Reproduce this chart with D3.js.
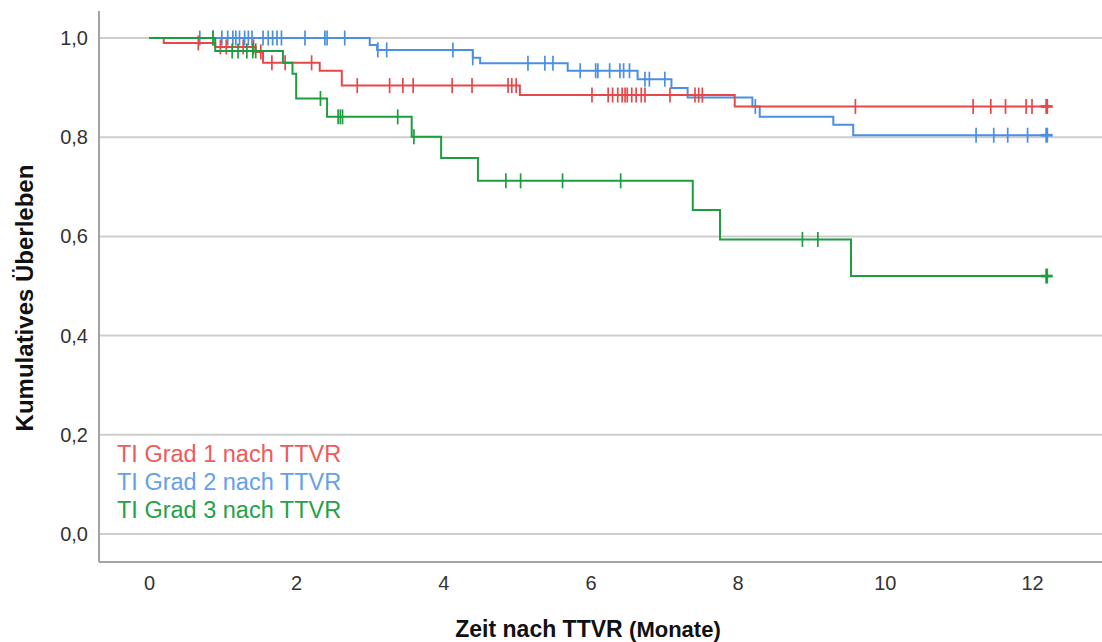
<!DOCTYPE html>
<html>
<head>
<meta charset="utf-8">
<script src="https://cdn.jsdelivr.net/npm/d3@7"></script>
<style>
  body { margin: 0; background: #fff; }
  svg { display: block; font-family: Arial, "Liberation Sans", sans-serif; }
</style>
</head>
<body>
<div id="chart"></div>
<script>
// Kaplan-Meier steps (Monate, kumulatives Ueberleben) per group
var grad1Times = [0.2, 0.9, 1.45, 1.55, 2.32, 2.62, 5.04, 7.96];
var grad1Surv  = [0.99, 0.982, 0.972, 0.95, 0.934, 0.904, 0.885, 0.862];
var grad1Cens  = [0.67, 0.97, 1.05, 1.28, 1.42, 1.52, 1.67, 1.85, 2.21, 2.83, 3.27, 3.45, 3.59,
                  4.12, 4.39, 4.88, 4.93, 4.99, 6.02, 6.24, 6.3, 6.37, 6.43, 6.47, 6.5, 6.56,
                  6.62, 6.69, 6.74, 7.08, 7.42, 7.47, 7.52, 9.6, 11.2, 11.44, 11.64, 11.92,
                  12.0, 12.2, 12.2];

var grad2Times = [3.0, 3.1, 4.4, 4.5, 5.69, 6.64, 7.1, 7.32, 8.2, 8.3, 9.3, 9.57];
var grad2Surv  = [0.986, 0.976, 0.96, 0.949, 0.934, 0.917, 0.899, 0.88, 0.862, 0.841, 0.825, 0.804];
var grad2Cens  = [0.69, 0.87, 0.99, 1.07, 1.14, 1.18, 1.23, 1.3, 1.35, 1.4, 1.55, 1.62, 1.68,
                  1.74, 1.8, 2.12, 2.39, 2.42, 2.66, 3.11, 3.23, 4.13, 4.4, 5.15, 5.38, 5.49,
                  5.86, 6.07, 6.1, 6.26, 6.4, 6.45, 6.53, 6.74, 6.8, 7.01, 8.24, 11.24, 11.48,
                  11.67, 11.94, 12.2, 12.2];

var grad3Times = [0.9, 1.82, 1.95, 2.0, 2.42, 3.57, 3.97, 4.47, 7.39, 7.76, 9.54];
var grad3Surv  = [0.974, 0.95, 0.928, 0.878, 0.841, 0.801, 0.758, 0.712, 0.653, 0.594, 0.52];
var grad3Cens  = [0.87, 1.13, 1.21, 1.33, 1.41, 1.45, 2.33, 2.57, 2.6, 2.63, 3.38, 3.6, 4.85,
                  5.05, 5.62, 6.41, 8.88, 9.09, 12.2, 12.2];

var lastTime = 12.2;
var groupNames = ["TI Grad 1 nach TTVR", "TI Grad 2 nach TTVR", "TI Grad 3 nach TTVR"];
var groupColors = ["#e8474a", "#4a8fe2", "#1d9e3e"];
var legendColors = ["#ee5a5c", "#65a0ea", "#25a247"];
var xTicks = [0, 2, 4, 6, 8, 10, 12];
var yTicks = [0, 0.2, 0.4, 0.6, 0.8, 1.0];

var groups = [
  {name: groupNames[0], color: groupColors[0], times: grad1Times, surv: grad1Surv, cens: grad1Cens},
  {name: groupNames[1], color: groupColors[1], times: grad2Times, surv: grad2Surv, cens: grad2Cens},
  {name: groupNames[2], color: groupColors[2], times: grad3Times, surv: grad3Surv, cens: grad3Cens}
];

var width = 1102, height = 642;
var frame = {left: 99, right: 1102, top: 11, bottom: 562};

var x = d3.scaleLinear().domain([0, 12]).range([149, 1032]);
var y = d3.scaleLinear().domain([0, 1]).range([534, 38]);

var svg = d3.select("#chart").append("svg")
  .attr("width", width)
  .attr("height", height);

// gridlines
svg.append("g")
  .selectAll("line")
  .data(yTicks)
  .enter().append("line")
    .attr("x1", frame.left)
    .attr("x2", frame.right)
    .attr("y1", function(d) { return y(d); })
    .attr("y2", function(d) { return y(d); })
    .attr("stroke", "#cdcdcd")
    .attr("stroke-width", 2);

// axes (no tick marks, only labels)
var yAxis = d3.axisLeft(y)
  .tickValues(yTicks)
  .tickSize(0)
  .tickPadding(11)
  .tickFormat(function(d) { return d3.format(".1f")(d).replace(".", ","); });

svg.append("g")
  .attr("transform", "translate(" + frame.left + ",0)")
  .call(yAxis)
  .call(function(g) { g.select(".domain").remove(); })
  .selectAll("text")
    .attr("font-size", 20)
    .attr("font-family", "Arial, 'Liberation Sans', sans-serif")
    .attr("fill", "#333");

var xAxis = d3.axisBottom(x)
  .tickValues(xTicks)
  .tickSize(0)
  .tickPadding(14);

svg.append("g")
  .attr("transform", "translate(0," + frame.bottom + ")")
  .call(xAxis)
  .call(function(g) { g.select(".domain").remove(); })
  .selectAll("text")
    .attr("font-size", 20)
    .attr("font-family", "Arial, 'Liberation Sans', sans-serif")
    .attr("fill", "#333");

// frame lines
svg.append("line")
  .attr("x1", frame.left).attr("x2", frame.left)
  .attr("y1", frame.top).attr("y2", frame.bottom)
  .attr("stroke", "#a3a3a3").attr("stroke-width", 2);
svg.append("line")
  .attr("x1", frame.left).attr("x2", frame.right)
  .attr("y1", frame.bottom).attr("y2", frame.bottom)
  .attr("stroke", "#a3a3a3").attr("stroke-width", 2);

function survAt(g, t) {
  var s = 1;
  for (var i = 0; i < g.times.length; i++) {
    if (g.times[i] <= t) s = g.surv[i];
  }
  return s;
}

var line = d3.line()
  .x(function(d) { return x(d[0]); })
  .y(function(d) { return y(d[1]); })
  .curve(d3.curveStepAfter);

// draw lower curves first so green/red sit on top like the original
[1, 0, 2].forEach(function(i) {
  var g = groups[i];
  var pts = [[0, 1]];
  g.times.forEach(function(t, k) { pts.push([t, g.surv[k]]); });
  pts.push([lastTime, g.surv[g.surv.length - 1]]);

  svg.append("path")
    .datum(pts)
    .attr("d", line)
    .attr("fill", "none")
    .attr("stroke", g.color)
    .attr("stroke-width", 2);

  var counts = d3.rollups(g.cens, function(v) { return v.length; }, function(d) { return d; });
  var marks = svg.append("g");
  marks.selectAll("line")
    .data(counts)
    .enter().append("line")
      .attr("x1", function(d) { return x(d[0]); })
      .attr("x2", function(d) { return x(d[0]); })
      .attr("y1", function(d) { return y(survAt(g, d[0])) - 7.5; })
      .attr("y2", function(d) { return y(survAt(g, d[0])) + 7.5; })
      .attr("stroke", g.color)
      .attr("stroke-width", function(d) { return 1.7 + (d[1] - 1) * 1.2; });
  // heavier plus at repeated censorings
  marks.selectAll("line.h")
    .data(counts.filter(function(d) { return d[1] > 1; }))
    .enter().append("line")
      .attr("class", "h")
      .attr("x1", function(d) { return x(d[0]) - 6; })
      .attr("x2", function(d) { return x(d[0]) + 6; })
      .attr("y1", function(d) { return y(survAt(g, d[0])); })
      .attr("y2", function(d) { return y(survAt(g, d[0])); })
      .attr("stroke", g.color)
      .attr("stroke-width", 2.8);
});

// legend
svg.append("g")
  .selectAll("text")
  .data(groups)
  .enter().append("text")
    .attr("x", 117)
    .attr("y", function(d, i) { return 454 + i * 28; })
    .attr("dominant-baseline", "central")
    .attr("font-size", 23.5)
    .attr("fill", function(d, i) { return legendColors[i]; })
    .text(function(d) { return d.name; });

// axis titles
svg.append("text")
  .attr("transform", "translate(33,298) rotate(-90)")
  .attr("text-anchor", "middle")
  .attr("font-size", 24)
  .attr("font-weight", "bold")
  .attr("fill", "#111")
  .text("Kumulatives Überleben");

var xt = svg.append("text")
  .attr("x", 588)
  .attr("y", 637)
  .attr("text-anchor", "middle")
  .attr("font-weight", "bold")
  .attr("fill", "#111");
xt.append("tspan").style("font-size", "23px").text("Zeit nach TTVR ");
xt.append("tspan").style("font-size", "22px").text("(Monate)");
</script>
</body>
</html>
